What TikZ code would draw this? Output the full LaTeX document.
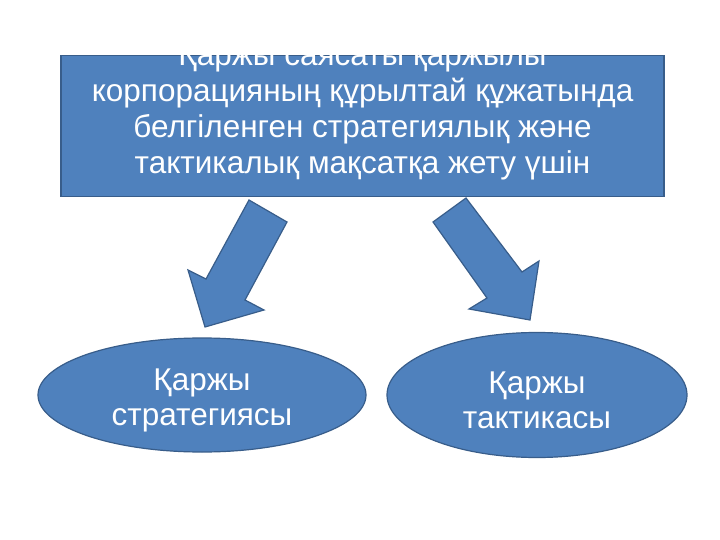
\documentclass[tikz,border=0pt]{standalone}
\usepackage{fontspec}
\setmainfont{Liberation Sans}
\usetikzlibrary{shapes.geometric}

\definecolor{boxblue}{HTML}{4F81BD}
\definecolor{edgeblue}{HTML}{385D8A}

\tikzset{
  boxnode/.style={draw=edgeblue, fill=boxblue, line width=1.2pt, inner sep=0pt},
  boxtext/.style={text=white, align=center, inner sep=0pt, font=\fontsize{31.5}{36}\selectfont},
  ovalnode/.style={ellipse, draw=edgeblue, fill=boxblue, line width=1.2pt, inner sep=0pt},
  ovaltext/.style={text=white, align=center, inner sep=0pt, font=\fontsize{31.5}{35}\selectfont},
  blockarrow/.style={draw=edgeblue, fill=boxblue, line width=1.2pt, line join=miter}
}

\begin{document}
\begin{tikzpicture}[x=1pt,y=-1pt]
  \path[use as bounding box, fill=white] (0,0) rectangle (720,540);

  % block arrows (drawn first, under the top box)
  \filldraw[blockarrow] (249,200) -- (287,222) -- (245,300) -- (264,310)
    -- (205,327) -- (188,270) -- (206,279) -- cycle;
  \filldraw[blockarrow] (466,198) -- (522,272) -- (539,261) -- (530,320)
    -- (469,309) -- (487,298) -- (433,222) -- cycle;

  % top box, its text runs over the edges
  \node[boxnode, minimum width=603pt, minimum height=141pt] (policy) at (362.5,126) {};
  \node[boxtext] (policytext) at ([yshift=14pt]policy.center)
    {Қаржы саясаты қаржылы\\корпорацияның құрылтай құжатында\\белгіленген стратегиялық және\\тактикалық мақсатқа жету үшін};

  % the two ovals
  \node[ovalnode, minimum width=328pt, minimum height=114pt] (strategy) at (202,395) {};
  \node[ovaltext] (strategytext) at ([yshift=-5pt]strategy.center) {Қаржы\\стратегиясы};
  \node[ovalnode, minimum width=300pt, minimum height=125pt] (tactics) at (537,395) {};
  \node[ovaltext] (tacticstext) at ([yshift=-5pt]tactics.center) {Қаржы\\тактикасы};
\end{tikzpicture}
\end{document}
